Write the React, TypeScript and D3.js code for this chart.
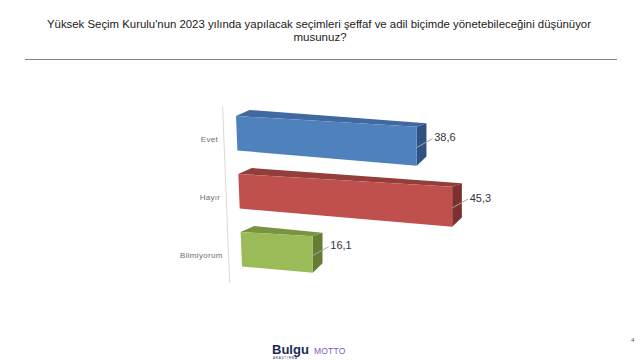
import React from "react";
import * as d3 from "d3";

const titleLine1 =
  "Yüksek Seçim Kurulu'nun 2023 yılında yapılacak seçimleri şeffaf ve adil biçimde yönetebileceğini düşünüyor";
const titleLine2 = "musunuz?";
const categories = ["Evet", "Hayır", "Bilmiyorum"];
const values = [38.6, 45.3, 16.1];
const valueLabels = ["38,6", "45,3", "16,1"];
const valueDomain = [0, 50];

const palette = [
  { front: "#4F81BD", top: "#3F69A0", side: "#2F5282" },
  { front: "#C0504D", top: "#943E3B", side: "#7D302E" },
  { front: "#9BBB59", top: "#79943F", side: "#647C33" },
];

type P = [number, number];

export default function App() {
  const W = 640;
  const H = 360;

  // slight perspective stretch along the value axis
  const x = d3.scalePow().exponent(1.05).domain(valueDomain).range([0, 237.2]);
  const y = d3.scalePoint<string>().domain(categories).range([116, 232]);

  const frontH = 34.5;
  const lean = 0.04; // zero line leans right going down (perspective)
  const zeroX = (yy: number) => 236 + lean * (yy - 116);
  const slopeTop = 0.06;
  const slopeBot = 0.085;
  const depthTL: P = [13.5, -6];
  const depthTR: P = [9.7, -3.5];
  const depthBR: P = [9.7, -9.3];

  const poly = d3
    .line<P>()
    .x((d) => d[0])
    .y((d) => d[1])
    .curve(d3.curveLinearClosed);

  const add = (a: P, b: P): P => [a[0] + b[0], a[1] + b[1]];

  const bars = categories.map((c, i) => {
    const ty = y(c) as number;
    const by = ty + frontH;
    const w = x(values[i]);
    const xl = zeroX(ty);
    const xr = xl + w;
    const TL: P = [xl, ty];
    const BL: P = [zeroX(by), by];
    const TR: P = [xr, ty + slopeTop * w];
    const BR: P = [xr, by + slopeBot * w];
    const bTL = add(TL, depthTL);
    const bTR = add(TR, depthTR);
    const bBR = add(BR, depthBR);
    const ls: P = [xr, TR[1] + 0.53 * (BR[1] - TR[1])];
    const le: P = [xr + 16, ls[1] - 9];
    return { c, i, ty, TL, BL, TR, BR, bTL, bTR, bBR, ls, le };
  });

  const axisTop = 106.7;
  const axisBot = 283;

  return (
    <svg
      width={W}
      height={H}
      style={{ position: "absolute", left: 0, top: 0, background: "#fff" }}
      fontFamily="'Liberation Sans', Arial, sans-serif"
    >
      <rect x={0} y={0} width={W} height={H} fill="#ffffff" />
      {/* Title */}
      <text
        x={47}
        y={28}
        fontSize={11.5}
        fill="#1a1a1a"
        textLength={544}
        lengthAdjust="spacingAndGlyphs"
      >
        {titleLine1}
      </text>
      <text x={320} y={40.5} fontSize={11.5} fill="#1a1a1a" textAnchor="middle">
        {titleLine2}
      </text>
      <line x1={25} x2={617} y1={59.5} y2={59.5} stroke="#808080" strokeWidth={1} />

      {/* Category axis line */}
      <line
        x1={zeroX(axisTop) - 13}
        y1={axisTop}
        x2={zeroX(axisBot) - 13}
        y2={axisBot}
        stroke="#D9D9D9"
        strokeWidth={1}
      />

      {/* Category labels */}
      {bars.map((b) => (
        <text
          key={"cl" + b.c}
          x={zeroX(b.ty) - 18}
          y={b.ty + 24}
          fontSize={8}
          fill="#707070"
          textAnchor="end"
          dominantBaseline="middle"
          letterSpacing={0.3}
        >
          {b.c}
        </text>
      ))}

      {/* Bars */}
      {bars.map((b) => (
        <g key={"bar" + b.c}>
          <path d={poly([b.TL, b.TR, b.bTR, b.bTL]) || ""} fill={palette[b.i].top} />
          <path d={poly([b.TR, b.bTR, b.bBR, b.BR]) || ""} fill={palette[b.i].side} />
          <path d={poly([b.TL, b.TR, b.BR, b.BL]) || ""} fill={palette[b.i].front} />
        </g>
      ))}

      {/* Value labels with leader lines */}
      {bars.map((b) => (
        <g key={"vl" + b.c}>
          <line
            x1={b.ls[0]}
            y1={b.ls[1]}
            x2={b.le[0]}
            y2={b.le[1]}
            stroke="#A6A6A6"
            strokeWidth={1}
          />
          <text
            x={b.le[0] + 1.5}
            y={b.le[1]}
            fontSize={11}
            fill="#333344"
            dominantBaseline="middle"
          >
            {valueLabels[b.i]}
          </text>
        </g>
      ))}

      {/* Footer logos */}
      <text x={272} y={354} fontSize={13} fontWeight="bold" fill="#1B2A5C">
        Bulgu
      </text>
      <text x={273} y={358.5} fontSize={3} fill="#1B2A5C" letterSpacing={0.8}>
        ARAŞTIRMA
      </text>
      <text x={314} y={353.5} fontSize={8.5} fill="#7E57C2" letterSpacing={0.2}>
        MOTTO
      </text>
      <text x={631} y={342} fontSize={6} fill="#3b5b8c">
        4
      </text>
    </svg>
  );
}
